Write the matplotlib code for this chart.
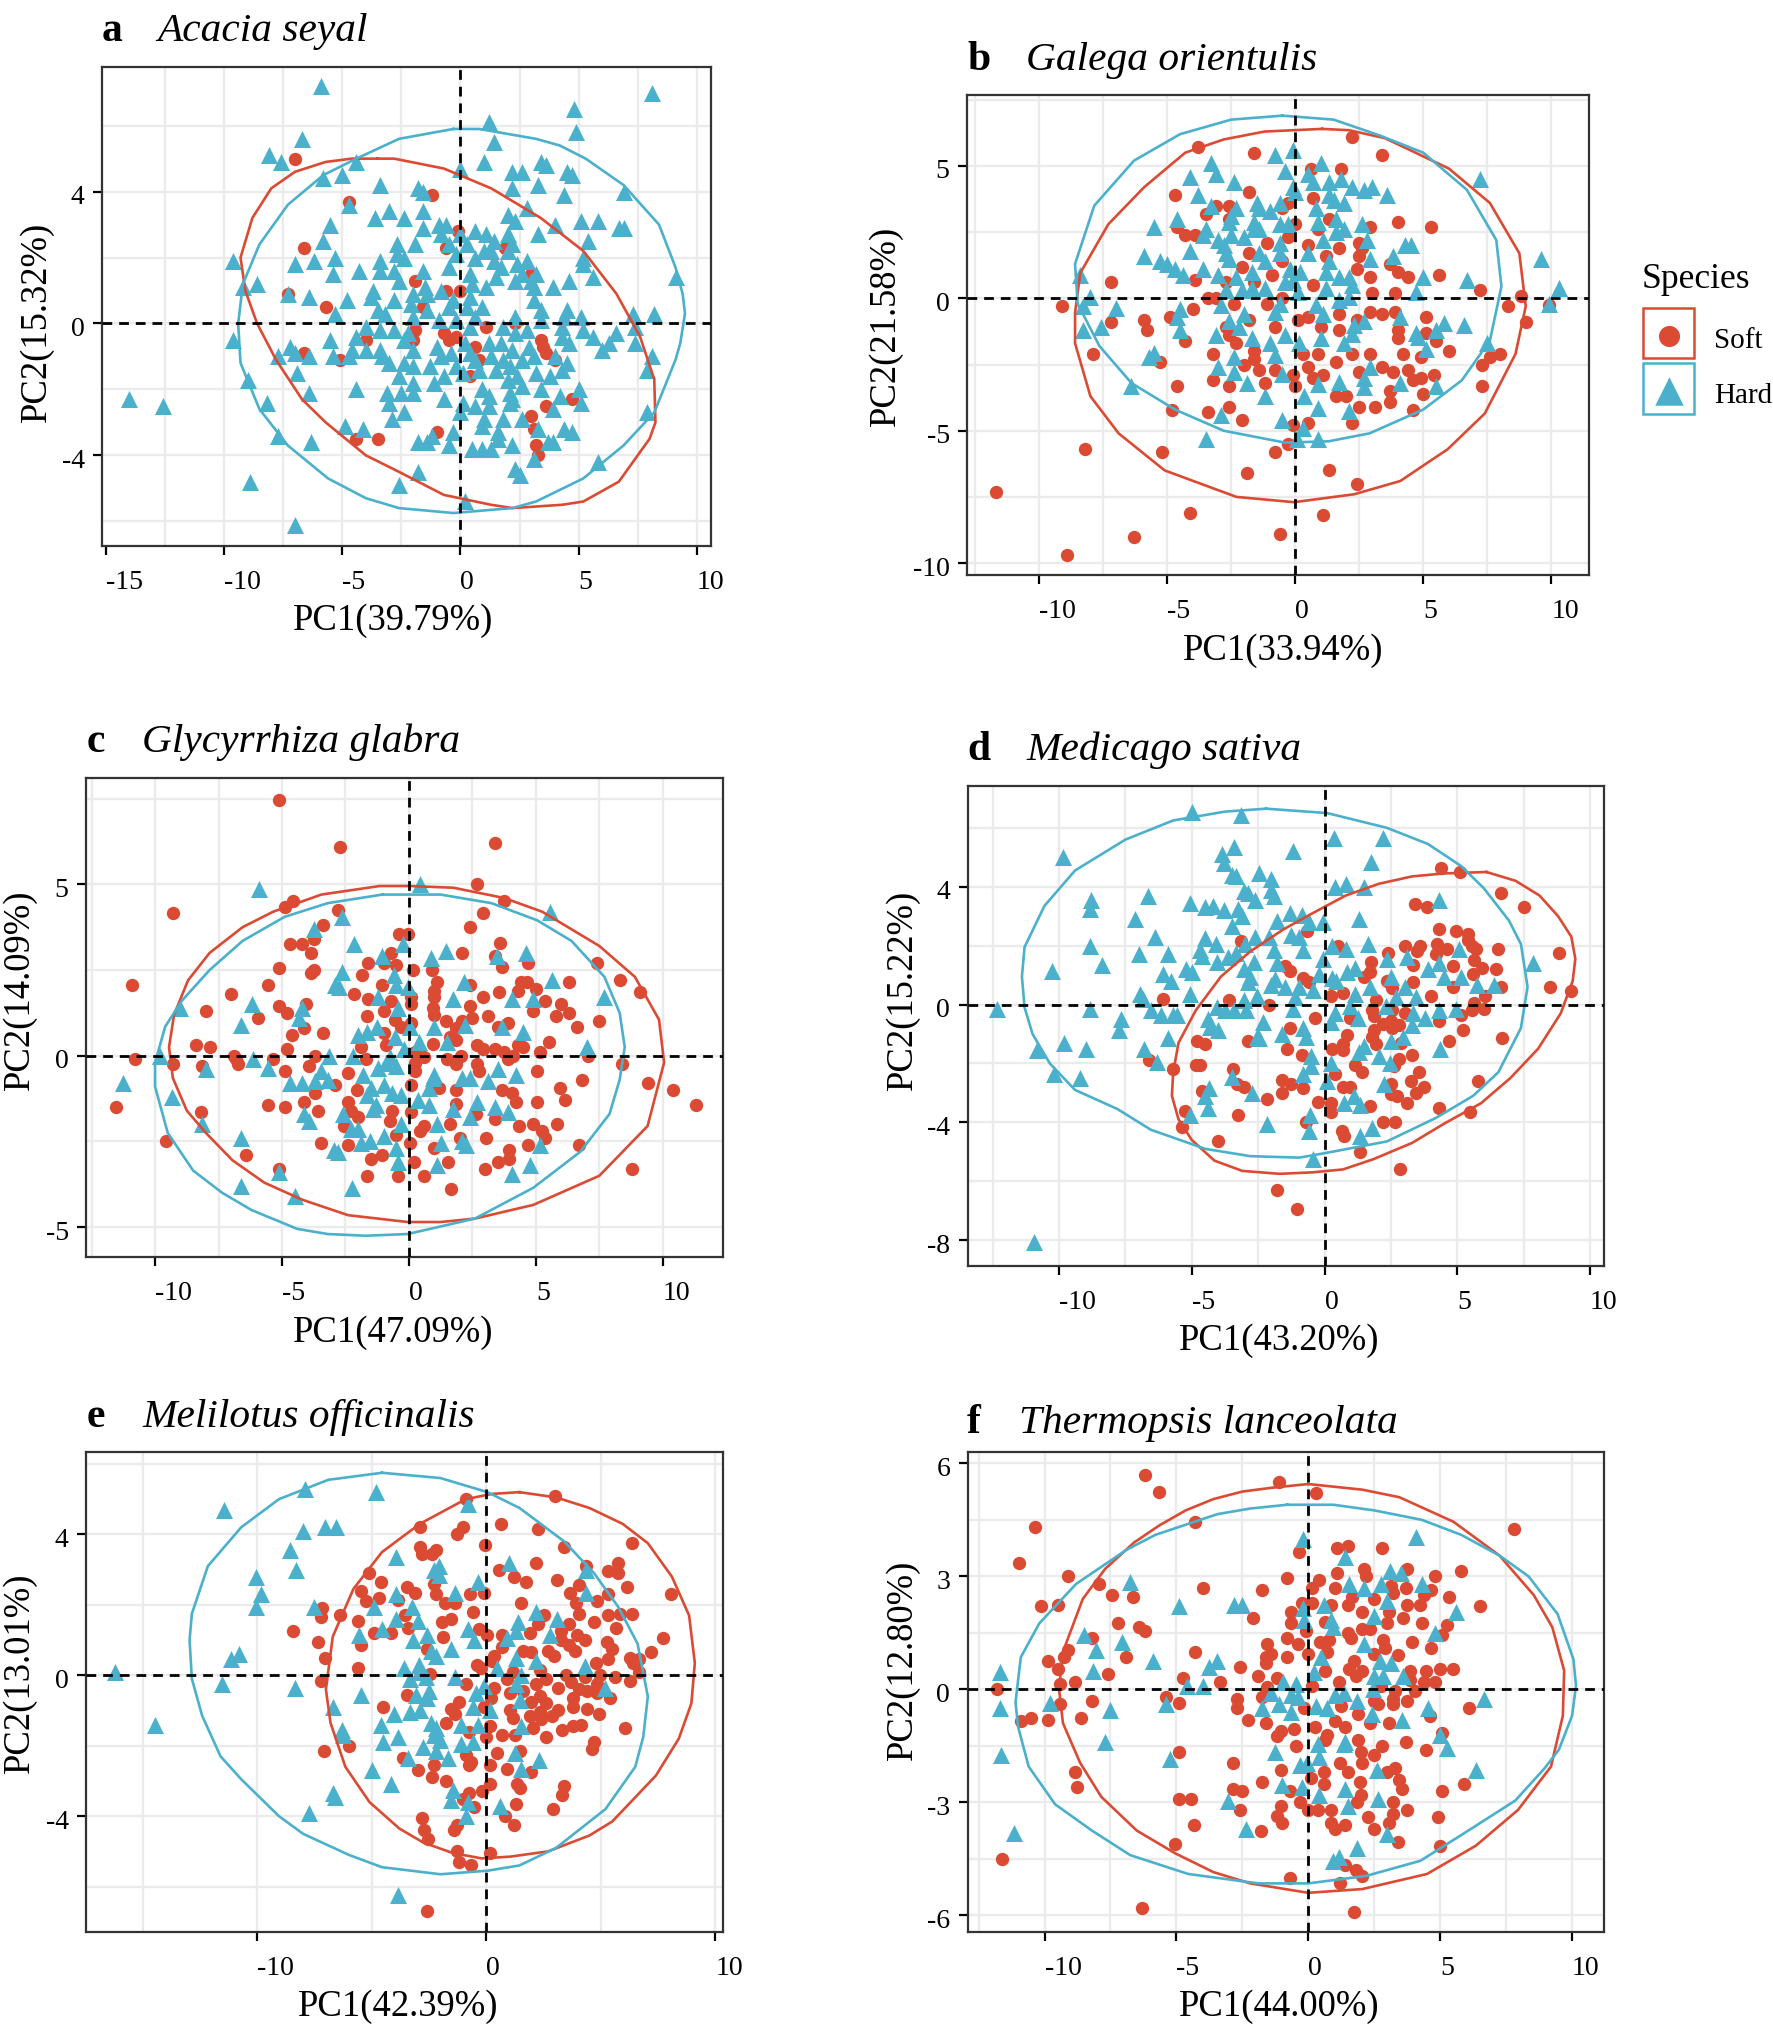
import matplotlib
matplotlib.use("Agg")
import matplotlib.pyplot as plt
from matplotlib.patches import Rectangle
from matplotlib.transforms import ScaledTranslation

plt.rcParams["font.family"] = ["Liberation Serif", "DejaVu Serif"]

SOFT = "#DB4A33"
HARD = "#4BB0CB"

# ----------------------------
# Panel a
# ----------------------------
a_soft = [(-7,5),(-1.2,3.9),(-4.7,3.7),(-.1,2.8),(-6.6,2.3),(-.6,2.3),(1.9,2.3),(3,1.5),(-1.9,1.3),(-7.3,.9),(-.6,1),(0,1),(-5.7,.5),(-1.6,.5),(-1.9,-.2),(1.1,-.1),(2.3,0),(-.7,-.3),(-.5,-.5),(-.2,-.4),(-4,-.5),(-2,-.5),(3.4,-.5),(.6,-.7),(3.5,-.7),(3.6,-.9),(-6.6,-.9),(4,-1.1),(-5.1,-1.1),(.8,-1.1),(.4,-1.6),(4.7,-2.3),(3.6,-2.5),(3,-2.8),(3.1,-3.2),(-1,-3.3),(-4.4,-3.5),(-3.5,-3.5),(3.2,-3.7),(3.3,-4)]
a_hard = [(-5.9,7.2),(8.1,7),(4.8,6.5),(1.2,6.1),(4.9,5.8),(1.4,5.5),(-6.7,5.6),(-8.1,5.1),(-7.6,4.9),(-4.4,4.9),(1,4.9),(0,4.7),(3.4,4.9),(3.6,4.8),(2.2,4.6),(2.6,4.6),(4.5,4.6),(4.7,4.5),(-5.8,4.4),(-5,4.5),(-3.4,4.2),(-1.8,4.1),(-1.6,4),(2.2,4.1),(3.3,4.2),(4.4,3.9),(6.9,4),(-4.7,3.6),(-3,3.4),(-1.6,3.4),(-3.6,3.2),(-2.4,3.2),(2.8,3.5),(2,3.3),(2.3,3.1),(5.1,3.1),(5.8,3.1),(-5.5,3),(4,3),(6.7,2.9),(6.9,2.9),(-1.6,2.9),(-.9,3),(-.6,3),(-.8,2.7),(.6,2.8),(0,2.7),(1.1,2.7),(1.4,2.5),(2,2.7),(3.3,2.7),(5.4,2.5),(-5.8,2.5),(-2.7,2.4),(-1.9,2.4),(-.5,2.4),(.3,2.4),(2.2,2.4),(2,2.2),(-2.7,2.1),(-.2,2.1),(1,2.2),(1.3,2.2),(5.2,2),(-5.3,2),(-6.2,1.9),(-9.6,1.9),(-7,1.8),(-2.4,2),(-3.4,1.9),(.6,2),(2.8,1.9),(1.4,1.9),(2.4,1.8),(5.2,1.8),(-.5,1.7),(-1.6,1.6),(-4.3,1.6),(-2.8,1.6),(-3.4,1.6),(.4,1.5),(1.7,1.7),(2.6,1.5),(3.2,1.5),(-5.4,1.5),(1.5,1.4),(5.6,1.4),(9.1,1.4),(-2.6,1.3),(2.3,1.3),(4.6,1.3),(3,1.3),(-8.6,1.2),(-9.2,1.1),(.5,1.2),(3.9,1.1),(3.1,1.1),(1.1,1.1),(-3.7,1),(-1.5,1.1),(-7.3,.9),(-6.4,.8),(-.8,1),(-2,.9),(-1.4,.9),(.4,.8),(-3.8,.8),(-2.8,.7),(-.3,.7),(3.1,.7),(-4.8,.7),(-2.1,.6),(.9,.5),(-.5,.5),(-3.5,.4),(.3,.5),(-1.4,.4),(4.5,.4),(3.4,.4),(-5.3,.3),(-3.2,.3),(2.3,.2),(8.2,.3),(7.3,.3),(5.1,.2),(-2,.2),(.6,.2),(4.4,.2),(-.9,.1),(-.2,.1),(3.4,.1),(7.4,-.1),(.4,-.1),(1.8,-.1),(2.8,-.2),(4.3,-.1),(-4,-.1),(-3.4,-.2),(-2.8,-.2),(5.2,-.2),(2.3,-.3),(6.6,-.3),(5.6,-.4),(-2.2,-.3),(-4.4,-.4),(1.2,-.6),(1.7,-.6),(4.3,-.4),(-9.6,-.5),(-5.5,-.5),(6.3,-.6),(7.4,-.6),(4.6,-.6),(.2,-.6),(-1,-.7),(-2.4,-.5),(-7.2,-.7),(6,-.8),(2.9,-.7),(2.2,-.8),(-4,-.8),(-4.6,-.8),(-3.4,-.8),(-2,-.8),(-7,-.9),(-.4,-.9),(1.3,-1),(.4,-.9),(-7.7,-1),(-6.4,-1),(-5.4,-1),(-4.7,-1),(-3.3,-1),(-.8,-1),(3.1,-1),(4,-1),(8.1,-1),(.6,-1.1),(2.6,-1.1),(1.8,-1.1),(-2.4,-1.2),(-2,-1.3),(-3,-1.2),(-1.3,-1.3),(4.5,-1.2),(7.9,-1.4),(-.2,-1.3),(2.1,-1.3),(.8,-1.4),(1.5,-1.4),(4.3,-1.4),(3.2,-1.5),(-.7,-1.6),(.1,-1.5),(-2.6,-1.6),(-6.9,-1.5),(2.4,-1.6),(3.8,-1.6),(-9,-1.7),(-1.1,-1.8),(-2,-1.8),(2,-1.7),(2.6,-1.9),(5,-2),(-4.4,-2),(-2.5,-2.1),(.9,-2),(3.4,-2),(-6.4,-2.1),(-3.1,-2.1),(-2,-2.1),(2.1,-2.1),(1.2,-2.2),(4.2,-2.2),(2.2,-2.3),(-.7,-2.3),(-14,-2.3),(-8.2,-2.4),(-3,-2.4),(.1,-2.4),(5.1,-2.4),(2.1,-2.4),(.6,-2.5),(1.2,-2.5),(-12.6,-2.5),(-2.4,-2.7),(3.9,-2.6),(7.9,-2.7),(0,-2.7),(-2.9,-2.9),(1.8,-2.9),(1,-2.9),(2.6,-2.9),(-4.9,-3.1),(-4.1,-3.2),(.9,-3.1),(3.3,-3.2),(4.4,-3.2),(4.7,-3.3),(1.6,-3.3),(-.3,-3.3),(-7.7,-3.4),(1.6,-3.5),(-1.2,-3.4),(-1.8,-3.6),(-1.4,-3.6),(-6.3,-3.6),(3.7,-3.6),(-.5,-3.7),(.5,-3.8),(.9,-3.8),(1.3,-3.8),(2.2,-3.7),(3.9,-3.6),(3.1,-4.1),(5.8,-4.2),(2.3,-4.4),(-1.8,-4.5),(2.5,-4.6),(-8.9,-4.8),(-2.6,-4.9),(.2,-5.4),(-7,-6.1)]
a_soft_ell = [(-3.5,5),(-2.8,5),(-.7,4.7),(1.3,4.1),(3.4,3.2),(5.2,2.2),(6.6,.9),(7.6,-.4),(8.2,-1.7),(8.25,-3),(8,-3.5),(6.7,-4.8),(5.2,-5.4),(4.3,-5.5),(2.2,-5.6),(1.3,-5.5),(-.7,-5.2),(-2.6,-4.5),(-4,-4),(-5.7,-3),(-6.7,-2.3),(-7.8,-1.1),(-8.6,0),(-9.1,1),(-9.3,2),(-8.8,3.2),(-8,4.1),(-7,4.6),(-5.7,4.9),(-4.6,5)]
a_hard_ell = [(-.3,5.9),(.8,5.9),(3.2,5.6),(4.2,5.4),(5.3,5),(6.9,4.2),(8.4,3),(9.1,1.7),(9.4,.9),(9.5,.3),(9.3,-.6),(9.1,-1.1),(8.2,-2.7),(6.9,-3.7),(5.2,-4.7),(3.2,-5.4),(2.2,-5.6),(-.3,-5.75),(-2.6,-5.6),(-4,-5.3),(-5.6,-4.7),(-7.3,-3.7),(-8.5,-2.6),(-9.3,-1.2),(-9.4,0),(-9.2,1.2),(-8.5,2.4),(-7.3,3.6),(-5.8,4.5),(-4.4,5),(-2.6,5.6)]

# ----------------------------
# Panel b
# ----------------------------
b_soft = [(2.2,6.1),(-3.8,5.7),(-1.6,5.5),(3.4,5.4),(.6,4.9),(1.8,4.9),(-4.7,3.9),(-1.8,4),(.7,3.8),(-3.1,3.5),(-2.6,3.5),(-.3,3.6),(-.5,3.4),(-3.5,3.2),(1.3,3),(-2.6,3),(0,2.8),(4,2.9),(5.3,2.7),(2.9,2.7),(-4.6,2.7),(.9,2.6),(-4.3,2.4),(-3.9,2.4),(-.3,2.3),(-1.1,2.1),(2.5,2.1),(.5,2),(2.6,1.9),(1.7,1.9),(-1.8,1.7),(1.2,1.6),(2.5,1.6),(-.5,1.4),(3.7,1.3),(2.4,1.1),(-2.1,1.2),(4,1),(-.9,.9),(5.6,.9),(2.9,.8),(-3.9,.7),(4.4,.8),(-7.2,.6),(-2.7,.6),(.7,.5),(-1.6,.6),(3,.2),(3.9,.2),(7.2,.3),(8.8,.1),(-3.4,0),(-3.1,0),(-.5,0),(-2.4,-.2),(-1.1,-.2),(-9.1,-.3),(-4,-.4),(8.3,-.3),(9.9,-.25),(2.9,-.5),(3.9,-.5),(3.4,-.6),(1.7,-.6),(-4.9,-.7),(5.1,-.7),(.1,-.8),(.5,-.7),(2.4,-.8),(-5.9,-.8),(-7.2,-.9),(-1.8,-.8),(9,-.9),(-5.8,-1.2),(-2.7,-1.1),(-.8,-1.1),(1,-1.1),(1.7,-1.2),(4,-1.2),(5.1,-1.3),(4,-1.5),(-2.6,-1.4),(-4.3,-1.6),(-2.3,-1.7),(5.5,-1.6),(-1.6,-2),(6,-2),(-3.2,-2.1),(-7.9,-2.1),(.3,-2.1),(.9,-2.1),(2.2,-2.1),(2.9,-2.1),(4.2,-2.1),(4.9,-2.2),(8,-2.1),(7.6,-2.2),(-5.3,-2.4),(-1.6,-2.3),(1.6,-2.4),(7.3,-2.5),(-2,-2.5),(.5,-2.6),(-.8,-2.7),(-1.4,-2.7),(3.4,-2.6),(3.8,-2.8),(4.4,-2.7),(2.5,-2.8),(5.4,-2.9),(-.1,-2.9),(1.1,-2.9),(.7,-3),(-3.2,-3.1),(4.6,-3.1),(4.9,-3),(-4.6,-3.3),(-2.6,-3.3),(-1.2,-3.2),(0,-3.3),(7.3,-3.3),(3.7,-3.5),(5,-3.6),(1.6,-3.7),(2,-3.7),(3.7,-3.9),(2.5,-4.1),(3.1,-4.1),(-2.6,-4.1),(-4.8,-4.2),(-3.4,-4.3),(4.6,-4.2),(-2.1,-4.6),(.5,-4.7),(2.2,-4.7),(-.1,-4.8),(-.3,-5.5),(-.8,-5.8),(-8.2,-5.7),(-5.2,-5.8),(1.3,-6.5),(-1.9,-6.6),(2.4,-7),(-11.7,-7.3),(-4.1,-8.1),(1.1,-8.2),(-6.3,-9),(-.6,-8.9),(-8.9,-9.7)]
b_hard = [(-.1,5.6),(-.8,5.4),(1,5.1),(-3.3,5.1),(-3.1,4.7),(-.4,4.8),(.5,4.7),(-4.1,4.6),(.7,4.4),(1.3,4.4),(1.8,4.5),(-2.4,4.4),(2.2,4.2),(2.7,4.1),(3,4.2),(-.1,4.2),(0,4),(1.3,3.9),(3.6,3.9),(7.2,4.5),(-3.8,3.9),(1.5,3.7),(-.6,3.6),(-1.5,3.6),(1.9,3.6),(-3.3,3.5),(-1.4,3.4),(-2.3,3.4),(.8,3.4),(-1,3.3),(-2.5,3.1),(1.6,3),(-4.6,3),(.9,2.9),(-2.6,2.9),(-1.6,2.9),(-.6,2.8),(2.6,2.8),(-.3,2.8),(-5.5,2.7),(1.9,2.6),(-3.5,2.6),(-1.4,2.6),(1.6,2.5),(-3.6,2.4),(-2.5,2.4),(-2,2.3),(-1.6,2.6),(-3,2.2),(1.1,2.2),(2.8,2.2),(-.6,2.1),(4.3,2),(4.5,2),(-2.8,2),(-4.1,1.8),(-1.4,1.7),(-.6,1.7),(.5,1.7),(-2.7,1.7),(3.8,1.6),(-5.9,1.6),(2.9,1.5),(-2.6,1.5),(-1.2,1.4),(-5.3,1.4),(1.3,1.4),(9.6,1.5),(-5,1.3),(-3.6,1.1),(-.2,1.1),(-4.7,1.1),(-1.7,1),(.2,1),(1.2,1),(-8.4,.9),(-3,.9),(-4.4,.9),(-2.3,.8),(1.7,.8),(2.1,.8),(5,.8),(6.7,.7),(-.4,.6),(-.1,.7),(2.2,.5),(10.3,.4),(-1.7,.4),(-1.2,.4),(1.2,.4),(-2.1,.3),(-2.7,.3),(4.7,.25),(.1,.25),(-8,.05),(2.1,.05),(1.7,-.05),(-8.3,-.3),(-7,-.35),(9.9,-.2),(-.6,-.2),(.8,-.25),(-2.9,-.25),(-4.5,-.4),(1.1,-.6),(-4.6,-.7),(4.1,-.7),(-2,-.6),(-.8,-.5),(-2.6,-.85),(2.7,-.85),(5.8,-.95),(6.6,-1),(-7.6,-1.1),(2.3,-1),(5.5,-1.2),(-8.3,-1.2),(-2.2,-1.1),(-4.5,-1.2),(4.7,-1.3),(-3.1,-1.4),(-.4,-1.4),(-1.7,-1.5),(1,-1.5),(2.2,-1.35),(4.8,-1.45),(1.9,-1.7),(-1,-1.7),(.15,-1.7),(7.5,-1.7),(5.1,-1.9),(-5.5,-2.05),(-5.7,-2.2),(-.8,-2.15),(-2.4,-2.2),(2.9,-2.6),(-3,-2.6),(-2.4,-2.8),(-.5,-2.85),(2.7,-3),(1.7,-3.15),(4.1,-3.2),(-1.9,-3.2),(.9,-3.25),(5.5,-3.3),(-6.4,-3.3),(2.7,-3.35),(.35,-3.7),(-1.2,-3.7),(.9,-4.15),(2.1,-4.25),(-2.9,-4.4),(-.5,-4.6),(.3,-4.9),(-3.5,-5.3),(.05,-5.3),(.9,-5.3)]
b_soft_ell = [(1.05,6.4),(-1.2,6.3),(-2.8,6),(-4.3,5.5),(-5.9,4.2),(-7.3,2.8),(-8.4,.95),(-8.6,-.55),(-8.6,-1.7),(-8,-3.7),(-6.9,-5.1),(-5.1,-6.5),(-2.3,-7.5),(-.05,-7.7),(2.3,-7.4),(4.1,-6.9),(5.95,-5.7),(7.4,-4.35),(8.6,-2.1),(9,-.3),(8.75,1.7),(7.6,3.6),(6,4.9),(3.5,6.05),(2.1,6.35)]
b_hard_ell = [(-.5,6.9),(-2.5,6.75),(-4.5,6.2),(-6.3,5.2),(-7.85,3.5),(-8.6,1.3),(-8.5,-.2),(-7.65,-1.8),(-6.4,-3.2),(-4.7,-4.2),(-2.8,-5),(-.4,-5.45),(1.3,-5.4),(2.9,-5.1),(5,-4.2),(6.5,-3.1),(7.6,-1.6),(8.05,.45),(7.85,2.2),(6.7,4.1),(5,5.5),(3.3,6.15),(1.5,6.75)]

# ----------------------------
# Panel c
# ----------------------------
c_soft = [(-5.1,7.45),(-2.7,6.1),(3.4,6.2),(2.7,5),(3.75,4.5),(-4.55,4.5),(-4.9,4.35),(-9.3,4.15),(2.9,4.15),(-2.8,4.25),(-3.4,3.8),(2.4,3.75),(-.4,3.55),(-.05,3.55),(-3.75,3.4),(-4.7,3.25),(-4.2,3.25),(3.6,3.3),(-3.85,3),(-.7,3),(2.1,3),(3.4,2.9),(4.7,2.7),(-1.6,2.7),(-1,2.7),(-.5,2.65),(3.65,2.6),(7.4,2.7),(-5.1,2.55),(-3.75,2.5),(.15,2.5),(.9,2.5),(-3.85,2.4),(-1.85,2.35),(8.3,2.2),(6.3,2.15),(-10.9,2.05),(-5.55,2.05),(-1.05,2.05),(1.1,2.15),(2.4,2.05),(4.4,2.15),(4.65,2.15),(1,1.9),(5,1.95),(4.3,1.9),(3.55,1.85),(9.1,1.85),(-7,1.8),(-2.15,1.8),(1,1.7),(2.9,1.7),(.1,1.7),(-1.6,1.65),(-.7,1.6),(5.35,1.6),(-4.05,1.5),(6,1.5),(.1,1.5),(-5.1,1.45),(.95,1.4),(2.4,1.45),(-8,1.3),(-4.8,1.25),(-1,1.3),(4.9,1.3),(1,1.2),(6.3,1.25),(-1.65,1.15),(3.1,1.15),(5.8,1.15),(-5.95,1.1),(2.5,1.1),(-.55,1.05),(1.45,1),(7.5,1),(2.1,1),(3.9,.95),(.1,.95),(-.3,.85),(6.6,.85),(3.5,.85),(-4.15,.8),(1.85,.8),(-3.4,.65),(-1,.65),(-4.6,.6),(1.6,.55),(1.85,.45),(5.5,.4),(.95,.35),(-.9,.3),(-1.9,.25),(2.7,.3),(4.3,.3),(-8.4,.3),(-7.85,.25),(2.9,.2),(4.5,.25),(3.4,.2),(-4.8,.2),(3.75,.1),(5.15,.1),(.25,.1),(-6.9,0),(-3.7,0),(.6,-.05),(2.05,0),(4.1,0),(-10.8,-.1),(-6.8,-.1),(-5.35,-.1),(-1.7,-.1),(1.5,-.1),(3.9,-.1),(7.05,0),(-9.3,-.25),(-6.75,-.25),(-3.95,-.3),(-8.15,-.3),(.25,-.2),(1.85,-.25),(2.7,-.25),(8.4,-.25),(-4.9,-.45),(.25,-.45),(5.05,-.45),(-2.4,-.5),(2.75,-.45),(6.8,-.7),(9.4,-.8),(-2.9,-.85),(.1,-.85),(1.2,-.95),(5.95,-.95),(-2.05,-1),(1.85,-1),(3.65,-1),(10.4,-1),(-3.7,-1.1),(4.05,-1.1),(6.15,-1.3),(-4.15,-1.35),(-2.4,-1.35),(5.05,-1.35),(-5.55,-1.45),(1.85,-1.4),(4.2,-1.35),(11.3,-1.45),(-11.55,-1.5),(-4.9,-1.5),(-3.6,-1.6),(-2.3,-1.6),(-8.2,-1.65),(-.65,-1.6),(.1,-1.65),(2.65,-1.7),(-2,-1.8),(3.4,-1.85),(-.75,-1.9),(1.6,-2),(5.85,-2),(4.9,-2),(.6,-2.05),(4.35,-2.05),(-2.55,-2.05),(5.25,-2.2),(.45,-2.2),(-.5,-2.3),(5.35,-2.4),(2,-2.4),(3.05,-2.4),(-9.55,-2.5),(-3.45,-2.55),(.05,-2.55),(-2.4,-2.6),(6.7,-2.6),(4.7,-2.6),(1,-2.7),(3.95,-2.75),(-6.4,-2.9),(-1.05,-2.9),(-1.5,-3),(3.95,-3),(.2,-3.1),(1.55,-3.1),(3.5,-3.1),(3,-3.3),(-5.1,-3.3),(8.8,-3.3),(-1.65,-3.5),(-.45,-3.5),(.6,-3.5),(1.65,-3.9)]
c_hard = [(-5.9,4.85),(.45,5),(5.55,4.2),(-2.65,4.05),(-3.75,3.7),(-2.15,3.25),(-.25,3.25),(1.45,3.05),(-1.05,2.9),(.85,2.85),(3.45,2.9),(4.6,3),(-2.65,2.45),(-.6,2.35),(5.65,2.2),(2.15,2.15),(-2.9,2.05),(-2.75,2),(-.5,2.05),(-.05,2),(7.7,1.7),(-1.2,1.7),(1.75,1.65),(4.05,1.65),(4.9,1.65),(-9,1.4),(-6.2,1.5),(-4.2,1.4),(-.45,1.4),(-4.35,1.1),(-6.6,.9),(3.65,.85),(2.2,.9),(1,.85),(.05,.85),(-1.25,.85),(4.5,.7),(-1.65,.7),(-2,.6),(-.55,.55),(1.5,.4),(.4,.4),(7,.25),(-.2,.2),(-9.8,0),(-3.15,0),(-2.2,0),(-6.15,-.1),(-.75,-.05),(-5.55,-.35),(-8,-.4),(-1.2,-.35),(-.5,-.3),(3.5,-.4),(-.9,-.2),(-3.45,-.45),(-1.8,-.55),(1,-.55),(4.2,-.55),(-3.2,-.7),(-4.7,-.8),(-4.2,-.8),(-3.7,-.75),(-11.25,-.8),(2.1,-.65),(2.4,-.65),(3.1,-.75),(.95,-.65),(-1,-.85),(.8,-.95),(-1.5,-.95),(-.65,-1.1),(-.3,-1.15),(-1.65,-1.15),(-9.35,-1.2),(.35,-1.3),(2.7,-1.35),(.8,-1.45),(-1.3,-1.45),(3.4,-1.5),(-1.4,-1.55),(1.75,-1.55),(3.9,-1.65),(-4.15,-1.7),(-2.6,-1.7),(2.4,-1.8),(-3.95,-1.9),(-8.15,-2),(-.3,-2),(1.1,-2),(-2.3,-2.15),(-2,-2.15),(-1,-2.35),(-6.6,-2.4),(-1.55,-2.5),(-1.9,-2.55),(1.25,-2.55),(2.1,-2.5),(2.25,-2.6),(5.15,-2.6),(-.5,-2.7),(-2.95,-2.75),(-2.8,-2.8),(-.45,-3.1),(1.1,-3.2),(4.75,-3.2),(-5.1,-3.4),(4.05,-3.45),(-6.6,-3.8),(-2.25,-3.85),(-4.5,-4.1)]
c_soft_ell = [(0,4.95),(-1.15,4.95),(-3.45,4.7),(-5.35,4.2),(-6.55,3.75),(-7.85,3),(-8.7,2.2),(-9.25,1.2),(-9.45,.25),(-9.3,-.65),(-8.75,-1.6),(-8,-2.25),(-6.95,-3.05),(-5.7,-3.7),(-4.2,-4.2),(-2.4,-4.65),(-.05,-4.85),(1.25,-4.85),(2.6,-4.75),(4.9,-4.35),(7.5,-3.5),(9.4,-2.05),(10.05,-.2),(9.85,1.05),(8.9,2.3),(7.5,3.2),(5.25,4.2),(3.75,4.6),(1.75,4.9)]
c_hard_ell = [(-1.05,4.7),(1.25,4.7),(3.25,4.45),(5.05,3.95),(6.4,3.35),(7.7,2.3),(8.3,1.25),(8.5,.25),(8.3,-.7),(7.9,-1.7),(6.75,-2.8),(4.9,-3.85),(2.6,-4.75),(-.05,-5.2),(-1.7,-5.25),(-3.2,-5.2),(-4.4,-5.05),(-6.2,-4.5),(-7.35,-4),(-8.5,-3.35),(-9.5,-2.25),(-10,-.9),(-10,-.2),(-9.6,.85),(-8.95,1.6),(-7.85,2.5),(-6.55,3.35),(-4.9,4.05),(-3.2,4.45)]

# ----------------------------
# Panel d
# ----------------------------
d_soft = [(4.4,4.65),(5.1,4.5),(6.65,3.8),(3.4,3.4),(3.85,3.3),(7.5,3.3),(4.3,2.55),(-.65,2.5),(4.95,2.5),(5.4,2.4),(-3.15,2.15),(5.4,2.2),(4.25,2.05),(3.05,2),(3.6,2),(.5,2),(5.55,2),(6.55,1.9),(4.6,1.9),(5.7,1.9),(3.5,1.8),(2.4,1.75),(4.2,1.7),(8.85,1.75),(5.65,1.5),(1.75,1.45),(3.35,1.35),(4.85,1.3),(5.95,1.25),(-1.5,1.3),(-1.3,1.15),(6.45,1.2),(1.7,1.1),(5.6,1.05),(-.8,.9),(1.5,.95),(2.35,.8),(3.35,.75),(8.5,.6),(4.85,.6),(6.65,.6),(-.6,.75),(2.55,.55),(.7,.4),(9.3,.45),(.25,.3),(4,.3),(6.05,.3),(-6.1,.2),(-3.6,.15),(1.95,.15),(5.65,.05),(-2.1,0),(6,-.15),(1.8,-.2),(2.55,-.2),(5.55,-.2),(5.15,-.35),(3.05,-.3),(-.35,-.45),(1.85,-.4),(.95,-.45),(2.5,-.55),(4.3,-.55),(2.2,-.65),(2.8,-.7),(-1.3,-.8),(1.85,-.85),(5.2,-.85),(2.55,-.8),(.85,-1.05),(1.8,-1.1),(6.7,-1.15),(-4.8,-1.25),(4.7,-1.25),(-4.5,-1.35),(-2.9,-1.25),(.7,-1.35),(1.95,-1.35),(2.9,-1.3),(-1.4,-1.5),(.3,-1.5),(.7,-1.55),(-.85,-1.7),(3.3,-1.7),(-6.6,-1.9),(2.8,-1.85),(-4.85,-2.05),(-4.7,-2.05),(-5.7,-2.2),(1.15,-2.05),(2.6,-2.1),(-3.45,-2.2),(1.4,-2.3),(.4,-2.35),(3.55,-2.3),(-1.6,-2.55),(3.25,-2.6),(5.8,-2.6),(-1.25,-2.7),(-3.3,-2.7),(-3.05,-2.8),(-.8,-2.85),(2.5,-2.7),(.7,-2.8),(.95,-2.8),(3.75,-2.8),(-4.6,-2.95),(3.45,-3),(2.5,-3.05),(-1.6,-3),(-2.15,-3.2),(2.75,-3.1),(-.25,-3.3),(3.1,-3.35),(.25,-3.35),(1.7,-3.45),(.25,-3.65),(4.3,-3.5),(-5.25,-3.6),(5.5,-3.65),(-3.25,-3.75),(-.7,-4),(2.2,-4),(2.65,-4),(-5.35,-4.15),(.65,-4.3),(.75,-4.45),(-4,-4.65),(1.35,-5),(2.85,-5.6),(-1.8,-6.3),(-1.05,-6.95)]
d_hard = [(-5,6.55),(-3.15,6.45),(.35,5.65),(2.2,5.65),(-3.4,5.35),(-9.85,5),(-3.85,5.1),(-1.2,5.2),(-3.8,4.8),(1.75,4.85),(-3.5,4.4),(-3.35,4.35),(-2.45,4.45),(-2,4.25),(.4,4),(.8,4.1),(1.5,4),(-2,3.9),(-3.05,3.85),(-1.9,3.7),(-2.9,3.8),(-8.8,3.55),(-6.65,3.7),(-2.6,3.55),(4.3,3.55),(-8.85,3.25),(-5.05,3.45),(-4.5,3.3),(-4.2,3.35),(-3.8,3.2),(-3.25,3.25),(-3.1,3),(-1.3,3.1),(-.85,3.05),(-1.8,2.85),(-7.15,2.9),(1.3,2.9),(-.05,2.8),(-.6,2.8),(-3.5,2.65),(-6.4,2.3),(-2.6,2.3),(-2.1,2.3),(-1.25,2.35),(-.95,2.3),(-4.5,2.25),(-4.1,2.05),(-3,2.05),(-8.85,2),(1.65,2.05),(.3,2),(.8,1.9),(-4.7,1.85),(-1.9,1.85),(-.8,1.85),(-7,1.7),(-5.9,1.7),(-4.6,1.65),(-3.35,1.75),(-3.65,1.6),(2.35,1.55),(3.1,1.6),(5.05,1.9),(-4.05,1.45),(-2.65,1.45),(-.05,1.55),(-8.4,1.35),(-1.8,1.4),(4.3,1.4),(7.85,1.4),(-10.25,1.15),(-5.2,1.2),(-5,1.1),(-3.05,1.2),(1.15,1.25),(3.9,1.2),(-6.1,1.05),(-.2,1.05),(-2.8,.95),(.85,1.1),(2.5,.95),(4.5,.95),(-5.8,.8),(.3,.9),(-1.85,.85),(-2.9,.75),(5.15,.95),(.45,.8),(-2,.65),(-1.5,.6),(-.95,.6),(1.7,.6),(3.05,.6),(5.75,.65),(6.4,.65),(-6.95,.35),(-5.05,.35),(1.15,.35),(-.45,.5),(-2.55,.3),(-1.1,.25),(3.45,.25),(2.7,.25),(-6.85,.2),(-3.05,.15),(-12.35,-.15),(-8.85,-.15),(-4.05,-.1),(2.3,-.05),(.95,-.05),(-6.55,-.2),(-3.75,-.2),(-3.4,-.2),(-2.95,-.2),(-1.2,-.15),(4.95,-.15),(4.3,-.2),(-6.15,-.35),(-5.7,-.35),(-5.55,-.35),(.4,-.3),(3.35,-.3),(1.25,-.45),(3.8,-.45),(-7.65,-.5),(-4.4,-.5),(.25,-.6),(-2.3,-.6),(3.3,-.7),(-4.3,-.75),(-4,-.85),(-7.75,-.85),(-.8,-.8),(-1.6,-1),(-2.55,-1.1),(-.7,-1.1),(2.95,-1.1),(-5.9,-1.15),(-2.45,-1.15),(2.5,-1.25),(-9.8,-1.3),(1.5,-1.4),(4.35,-1.5),(-9,-1.5),(-10.85,-1.55),(-6.8,-1.5),(1.3,-1.6),(-.5,-1.75),(2.05,-1.75),(-6.3,-1.95),(.25,-2),(2.45,-2),(-.5,-2.1),(-.8,-2.35),(-10.2,-2.35),(-3.5,-2.45),(-9.2,-2.5),(.1,-2.6),(2.25,-2.7),(-4.35,-2.85),(-2.75,-3),(1.1,-3.1),(-4.5,-3.1),(.75,-3.35),(1.35,-3.4),(-4.4,-3.5),(-5.05,-3.75),(-.55,-3.75),(-2.15,-4.05),(1.8,-4.2),(-.6,-4.3),(1.35,-4.45),(-.45,-5.25),(-10.95,-8.05)]
d_soft_ell = [(6.1,4.5),(4.5,4.45),(3.3,4.35),(2.05,4.1),(.8,3.7),(-.45,3.1),(-1.55,2.55),(-2.8,1.8),(-3.9,.95),(-4.85,-.2),(-5.5,-1.3),(-5.7,-2.3),(-5.75,-3.1),(-5.5,-3.9),(-5,-4.6),(-4.15,-5.3),(-3.1,-5.65),(-1.7,-5.75),(-.45,-5.7),(.7,-5.6),(1.85,-5.25),(3.3,-4.7),(4.5,-4.05),(5.9,-3.35),(7,-2.5),(8.05,-1.5),(8.9,-.3),(9.35,.8),(9.45,1.55),(9.3,2.3),(8.8,3),(8.1,3.7),(7.2,4.2)]
d_hard_ell = [(-2.2,6.65),(.1,6.5),(2.35,6),(3.9,5.45),(5.15,4.7),(6,3.95),(6.95,2.85),(7.4,2.05),(7.65,.6),(7.4,-.8),(6.55,-2.3),(5.6,-3.1),(4.2,-3.85),(2.35,-4.65),(0,-5.05),(-.95,-5.2),(-2.8,-5.15),(-4.5,-4.9),(-6.55,-4.25),(-7.8,-3.55),(-9.4,-2.9),(-10.35,-2),(-11,-1),(-11.3,-.1),(-11.4,.95),(-11.3,1.95),(-10.55,3.35),(-9.4,4.55),(-7.5,5.6),(-5.7,6.25),(-3.75,6.55)]

# ----------------------------
# Panel e
# ----------------------------
e_soft = [(3,5.1),(-.9,5),(.65,4.3),(-1,4.2),(-2.9,4.2),(2.25,4.15),(-1.3,4),(6.35,3.75),(-.05,3.7),(3.4,3.65),(-2.9,3.65),(-2.2,3.55),(-2.8,3.45),(-2.35,3.45),(5.75,3.2),(2.15,3.2),(4.35,3.1),(.55,3),(5.3,2.95),(5.75,2.9),(-5.1,2.9),(1.2,2.8),(3.1,2.7),(-4.6,2.65),(1.75,2.65),(-2.3,2.6),(4.05,2.55),(6.15,2.5),(-3.45,2.5),(-5.45,2.4),(3.65,2.35),(-3.1,2.35),(-.1,2.35),(-.7,2.3),(5.3,2.3),(8.05,2.3),(-2.2,2.3),(-4.7,2.2),(-3.85,2.15),(4.85,2.1),(-5.25,2.1),(1.5,2.05),(3.9,2.05),(-1.8,2.05),(-1.35,2.05),(-7.15,1.9),(-.6,1.8),(4.05,1.75),(5.85,1.75),(6.35,1.75),(5.3,1.7),(-7.2,1.65),(-6.4,1.7),(2.5,1.7),(-3.55,1.7),(-1.55,1.6),(-5.6,1.55),(-1.95,1.5),(4.7,1.5),(3.6,1.45),(2.25,1.45),(5.65,1.35),(-3.4,1.35),(-.3,1.3),(-8.45,1.25),(-4.9,1.2),(-4.15,1.2),(3.25,1.25),(1.9,1.2),(.05,1.15),(.7,1.15),(3.95,1.15),(-1.9,1.1),(7.7,1.05),(3.25,1),(-7.35,.95),(4.3,1),(5.25,.95),(-5.45,.85),(3.6,.85),(.7,.8),(-2.6,.75),(5.5,.75),(3.85,.7),(1.6,.7),(2.7,.7),(7.2,.65),(1.95,.65),(-7.05,.5),(.35,.55),(2.95,.55),(5.3,.45),(6.25,.5),(6.65,.45),(4.8,.35),(-.4,.3),(.25,.4),(6.4,.35),(-5.6,.2),(-2.45,.05),(-.25,.2),(1.15,.1),(2.35,.15),(6.65,.1),(5.6,-.05),(3.5,0),(4.3,-.05),(4.95,0),(2.6,-.1),(.9,-.1),(6.25,-.15),(-7.2,-.15),(-.9,-.25),(2.15,-.25),(3.7,-.2),(4.85,-.25),(.35,-.35),(3.15,-.35),(4.05,-.4),(4.4,-.45),(1.6,-.45),(1.05,-.5),(4.85,-.5),(5.4,-.65),(-3.45,-.55),(2.35,-.6),(.2,-.65),(3.8,-.65),(1.95,-.75),(-1.2,-.75),(2.6,-.8),(-4.5,-.9),(-1.55,-.95),(3.8,-.9),(-.1,-.9),(3.15,-1),(4.4,-.95),(1.05,-1),(2.35,-1.05),(-1.35,-1.1),(4.9,-1.1),(1.15,-1.2),(1.9,-1.15),(2.85,-1.15),(-1.75,-1.35),(2.4,-1.25),(4.15,-1.4),(3.8,-1.45),(3.3,-1.55),(6.05,-1.5),(.15,-1.45),(2.05,-1.5),(1.25,-1.7),(.7,-1.7),(2.6,-1.75),(-.75,-1.6),(0,-1.75),(4.7,-1.9),(4.6,-2.1),(-6,-2),(-7.1,-2.15),(1.45,-2.15),(.45,-2.2),(-.9,-2.25),(-3.65,-2.35),(-.65,-2.45),(-2.3,-2.55),(.15,-2.55),(.9,-2.65),(-.75,-2.55),(-3,-2.7),(1.95,-2.75),(-2.35,-2.9),(-1.75,-3),(.15,-3.1),(1.35,-3.1),(3.4,-3.15),(1.45,-3.2),(3.3,-3.4),(-.2,-3.3),(-.75,-3.35),(-1,-3.5),(1.3,-3.65),(-.55,-3.75),(2.9,-3.8),(.8,-4),(-2.8,-4.05),(-1.3,-4.25),(1.2,-4.25),(-2.7,-4.4),(-1.4,-4.4),(-2.55,-4.65),(-1.3,-5),(.15,-5.05),(-1.2,-5.3),(-.65,-5.4),(-2.6,-6.7)]
e_hard = [(-7.9,5.3),(-4.8,5.2),(-11.45,4.7),(-.8,4.85),(-7.05,4.2),(-6.55,4.2),(-8,4.1),(-8.55,3.55),(-3.95,3.35),(1,3.2),(-2.05,3.1),(-2.3,3),(-2.05,2.85),(-8.3,3),(4.35,3),(-10.05,2.8),(-.35,2.65),(-9.85,2.3),(-3.95,2.3),(-1.35,2.35),(4.35,2.35),(-10.05,1.95),(-7.5,1.95),(-4.9,1.95),(-3.25,1.95),(2.15,1.8),(3.1,1.6),(-3.95,1.6),(-3,1.55),(1.4,1.5),(-4.55,1.3),(-.8,1.3),(1.3,1.25),(-5.55,1.15),(-2.6,1.15),(2.8,1.15),(-3.2,1),(-.55,1),(.9,1.05),(-1.55,.75),(-2.4,.7),(-10.8,.6),(-11.15,.45),(-2.2,.55),(1.3,.5),(2.15,.4),(-2.95,.3),(4.3,.25),(-3.6,.2),(-16.2,.1),(.45,.2),(-2.95,.1),(-1.35,-.05),(-3.35,-.1),(-2.65,-.05),(1.5,0),(-11.55,-.25),(1.3,-.25),(-.1,-.3),(-8.35,-.35),(5.2,-.35),(-2.5,-.45),(-.45,-.5),(-5.45,-.55),(-3.05,-.55),(-2.6,-.65),(1.45,-.7),(-6.7,-.9),(-.6,-.9),(.15,-1),(-2.9,-1),(-3.35,-1.05),(-4.05,-1.1),(-2.4,-1.35),(-4.6,-1.4),(-14.45,-1.4),(-1.1,-1.4),(-.35,-1.4),(1.5,-1.45),(-6.3,-1.55),(-2.2,-1.5),(-2.3,-1.7),(-3.85,-1.75),(-6.25,-1.7),(-2,-1.85),(-4.5,-1.9),(-.6,-1.9),(-1.1,-1.95),(-2.75,-2.05),(-2.2,-2.15),(1.25,-2.2),(-1.65,-2.35),(-3.4,-2.35),(2.3,-2.4),(1.5,-2.65),(-5,-2.7),(-4.15,-3.1),(-1.45,-3.25),(-6.7,-3.35),(-6.6,-3.45),(-1.55,-3.55),(-.8,-3.6),(.6,-3.7),(-7.75,-3.9),(-.9,-4),(-3.85,-6.25)]
e_soft_ell = [(1.45,5.2),(.25,5.15),(-.9,5),(-2.9,4.3),(-4.55,3.5),(-5.8,2.45),(-6.7,1.1),(-7,-.4),(-6.8,-1.35),(-6.15,-2.6),(-5.1,-3.6),(-3.8,-4.35),(-2.75,-4.75),(-1.45,-5.05),(-.2,-5.2),(1.05,-5.15),(2.7,-5),(4.5,-4.55),(5.5,-4.15),(7.4,-2.85),(8.4,-1.8),(8.95,-.8),(9.1,.35),(8.85,1.7),(8.1,2.8),(7.05,3.75),(5.95,4.3),(4.5,4.75),(3.05,5.05)]
e_hard_ell = [(-4.55,5.75),(-2,5.6),(.05,5.2),(1.45,4.75),(3.4,3.8),(4.7,2.9),(5.75,1.95),(6.6,.9),(7.05,-.6),(6.85,-1.75),(6.5,-2.6),(5.2,-3.8),(3.05,-4.9),(1.45,-5.4),(.05,-5.55),(-2,-5.65),(-4.55,-5.45),(-6,-5.1),(-8,-4.5),(-9.05,-4),(-10.7,-2.95),(-11.6,-2.3),(-12.4,-1.15),(-12.85,-.1),(-12.95,1),(-12.85,1.75),(-12.15,3.1),(-10.7,4.2),(-9.05,5),(-6.9,5.55)]

# ----------------------------
# Panel f
# ----------------------------
f_soft = [(-6.2,5.7),(-5.65,5.25),(-1.1,5.5),(.3,5.2),(-4.3,4.45),(-10.35,4.3),(7.8,4.25),(-10.95,3.35),(1.1,3.75),(1.5,3.8),(2.8,3.75),(-.35,3.65),(2.1,3.2),(3.75,3.2),(5.8,3.15),(-9.1,3),(1.1,3.1),(2.2,3),(4.8,3),(-.8,2.95),(.4,2.9),(-7.95,2.8),(-4,2.7),(.15,2.7),(1,2.7),(-1.75,2.65),(3.15,2.75),(3.7,2.7),(4.65,2.65),(-7.45,2.5),(-6.65,2.45),(1.65,2.45),(5.35,2.45),(4.4,2.5),(3.2,2.55),(-9.5,2.25),(-10.15,2.2),(6.5,2.2),(1.5,2.25),(2.5,2.4),(3.75,2.25),(4.25,2.25),(.85,2.25),(-.25,2.3),(.15,2.3),(-.65,2.05),(2.05,2.05),(3.05,2.05),(-2.1,1.9),(3.6,1.9),(.65,1.8),(-7.2,1.75),(-.65,1.75),(4.3,1.75),(3,1.75),(5.25,1.7),(2.05,1.6),(-6.4,1.65),(-6.2,1.55),(-.1,1.55),(2.35,1.6),(1.5,1.5),(5.05,1.45),(-8.2,1.35),(-.8,1.35),(.8,1.3),(1.6,1.35),(2.85,1.3),(3.95,1.25),(-1.55,1.2),(-.4,1.2),(.45,1.25),(4.65,1.1),(-9.1,1.05),(2.9,1.1),(-4.3,1),(-1.4,.95),(.7,1),(0,.95),(2.5,.95),(-9.25,.85),(-6.9,.85),(-.8,.85),(-1.6,.85),(3.4,.9),(-9.85,.75),(-1.6,.7),(1.75,.75),(-9.5,.55),(-2.6,.6),(1.55,.55),(2.05,.5),(3.85,.5),(4.45,.5),(5,.55),(5.5,.55),(.65,.5),(-7.6,.4),(1.8,.35),(-1.9,.35),(-1.2,.3),(-4.75,.3),(3.85,.25),(4.4,.2),(4.8,.2),(1.15,.2),(-8.85,.2),(-3.35,.2),(-9.4,.15),(2.75,.1),(.15,.1),(-11.8,0),(-1.55,.05),(3.3,-.05),(4.05,-.05),(-2.7,-.25),(-5.4,-.2),(-1.75,-.2),(-8.2,-.3),(3.2,-.25),(3.75,-.3),(2.5,-.3),(-4.9,-.35),(3.2,-.4),(2.65,-.4),(-9.4,-.4),(-2.7,-.5),(6.1,-.5),(1.25,-.45),(-.15,-.5),(1.9,-.65),(-8.6,-.75),(-10.5,-.75),(-2.3,-.8),(4.6,-.7),(-9.85,-.8),(-10.9,-.85),(1,-.85),(2.35,-.9),(-1.6,-.9),(3.05,-.9),(1.4,-1),(.25,-1),(-.55,-1.05),(-1.05,-1.1),(5.05,-1.15),(-1.2,-1.25),(.7,-1.2),(1.9,-1.35),(.65,-1.35),(-.45,-1.5),(2.8,-1.5),(3.7,-1.4),(4.45,-1.6),(-4.9,-1.65),(2,-1.65),(2.5,-1.75),(-2.85,-1.95),(1.2,-1.95),(2.05,-1.95),(3.3,-2.1),(-1.05,-2.15),(.6,-2.2),(-8.85,-2.2),(1.5,-2.2),(3,-2.2),(.1,-2.35),(3.45,-2.4),(5.9,-2.5),(-1.75,-2.45),(1.95,-2.45),(.6,-2.5),(-8.75,-2.6),(3.55,-2.65),(-2.85,-2.65),(-2.5,-2.7),(5.05,-2.7),(-.7,-2.7),(2,-2.8),(-4.9,-2.9),(-4.45,-2.9),(-.3,-3),(3.2,-3),(1.85,-3),(-1.05,-3.1),(0,-3.2),(.85,-3.2),(-2.6,-3.2),(3.75,-3.2),(.35,-3.2),(3.2,-3.3),(-1.2,-3.35),(4.9,-3.4),(2.25,-3.4),(-1,-3.55),(.85,-3.55),(-4.35,-3.6),(1.4,-3.6),(3.05,-3.55),(2.5,-3.7),(1,-3.7),(-1.8,-3.75),(3.4,-4.05),(-5.05,-4.1),(5,-4.15),(-11.6,-4.5),(1.4,-4.65),(1.8,-4.8),(2.05,-4.95),(-.7,-5),(1.2,-5.15),(-6.3,-5.8),(1.75,-5.9)]
f_hard = [(-.2,4),(4.1,4.05),(1.4,3.5),(3.1,3.15),(3.5,3.1),(-6.75,2.85),(4.3,2.8),(1.55,2.8),(2.1,2.7),(2.75,2.8),(3,2.35),(-2.8,2.25),(-2.5,2.25),(.6,2.25),(-4.9,2.2),(5.6,2.05),(-.2,2.15),(2.5,1.95),(-.15,1.85),(.85,1.85),(.95,1.65),(-8.5,1.45),(4.8,1.5),(-7.05,1.25),(2.1,1.2),(-8.05,1.05),(.5,.85),(-5.9,.75),(-3.45,.75),(2.7,.75),(3.15,.7),(-3.75,.6),(-11.7,.45),(-8.15,.5),(.2,.45),(2.5,.35),(2.85,.35),(3.6,.35),(-.95,.2),(-.45,.15),(-4.6,.1),(-4,.1),(2.45,0),(-1.4,-.1),(-.65,-.15),(1.35,-.1),(1,-.15),(6.65,-.25),(1.85,-.3),(-.4,-.2),(-9.8,-.35),(-1.1,-.4),(.3,-.45),(.7,-.5),(-11.7,-.5),(4.55,-.5),(-5.4,-.4),(-7.5,-.55),(-1.75,-.5),(-.65,-.6),(2.4,-.65),(3.55,-.8),(5,-1.2),(-7.7,-1.4),(1.4,-1.4),(1.35,-1.45),(.35,-1.45),(5.25,-1.55),(-1.25,-1.65),(.4,-1.8),(-11.65,-1.75),(-5.25,-1.85),(-.05,-1.95),(-.3,-2),(2.6,-2.15),(6.35,-2.15),(-1,-2.55),(-.25,-2.6),(1.4,-2.65),(.4,-2.8),(-3.05,-2.95),(2.65,-2.9),(1.5,-3.1),(-2.35,-3.7),(3,-3.85),(-11.15,-3.8),(1.85,-4.2),(1.15,-4.45),(.95,-4.55)]
f_soft_ell = [(0,5.45),(-1.4,5.35),(-2.5,5.25),(-3.6,5.05),(-4.65,4.75),(-5.65,4.35),(-6.6,3.9),(-7.7,3.2),(-8.55,2.4),(-9.3,1),(-9.45,0),(-9.3,-.9),(-8.65,-1.95),(-7.85,-2.85),(-6.5,-3.75),(-5.05,-4.35),(-3.6,-4.85),(-2.2,-5.15),(0,-5.4),(2.05,-5.3),(4.5,-4.9),(6.35,-4.15),(7.95,-3.2),(9.2,-2.05),(9.65,-.7),(9.7,.5),(9.25,1.65),(8.55,2.5),(7.25,3.55),(5.5,4.45),(3.45,5.1),(2.05,5.3)]
f_hard_ell = [(-.8,4.9),(.95,4.9),(2.5,4.75),(4.3,4.5),(5.8,4.1),(7.25,3.55),(8.35,3),(9.45,2),(10.05,.8),(10.15,.1),(10,-.7),(9.5,-1.6),(8.95,-2.1),(7.85,-2.95),(5.95,-3.8),(4.25,-4.55),(2.2,-4.95),(0,-5.15),(-1.9,-5.15),(-4.55,-4.9),(-6.75,-4.4),(-8.2,-3.75),(-9.6,-3.05),(-10.6,-2.05),(-11,-1),(-11.1,-.35),(-10.9,.85),(-10.2,1.75),(-8.8,2.8),(-6.9,3.7),(-5.8,4.1),(-3.45,4.65),(-2.2,4.8)]

species_names = ["Acacia seyal", "Galega orientulis", "Glycyrrhiza glabra", "Medicago sativa", "Melilotus officinalis", "Thermopsis lanceolata"]
pc1_labels = ["PC1(39.79%)", "PC1(33.94%)", "PC1(47.09%)", "PC1(43.20%)", "PC1(42.39%)", "PC1(44.00%)"]
pc2_labels = ["PC2(15.32%)", "PC2(21.58%)", "PC2(14.09%)", "PC2(15.22%)", "PC2(13.01%)", "PC2(12.80%)"]

W, H = 1773, 2028
fig = plt.figure(figsize=(W / 100, H / 100), dpi=100)

# background axes in pixels, for the loose text and the legend
bg = fig.add_axes([0, 0, 1, 1], zorder=5)
bg.set_xlim(0, W)
bg.set_ylim(H, 0)
bg.axis("off")
bg.patch.set_alpha(0)


def panel(box, xlim, ylim, xticks, yticks, xgrid, ygrid, soft, hard, soft_ell, hard_ell):
    left, right, top, bottom = box
    ax = fig.add_axes([left / W, 1 - bottom / H, (right - left) / W, (bottom - top) / H])
    ax.set_xlim(xlim)
    ax.set_ylim(ylim)
    for v in xgrid:
        ax.axvline(v, color="#EBEBEB", lw=1.7, zorder=1)
    for v in ygrid:
        ax.axhline(v, color="#EBEBEB", lw=1.7, zorder=1)
    ax.scatter(*zip(*soft), s=92, marker="o", color=SOFT, linewidths=0, zorder=3)
    ax.scatter(*zip(*hard), s=150, marker="^", color=HARD, linewidths=0, zorder=4)
    for ell, col in ((soft_ell, SOFT), (hard_ell, HARD)):
        xs, ys = zip(*(ell + ell[:1]))
        ax.plot(xs, ys, color=col, lw=1.9, zorder=5)
    ax.axvline(0, color="black", lw=2, ls=(0, (3.5, 2.5)), zorder=6)
    ax.axhline(0, color="black", lw=2, ls=(0, (3.5, 2.5)), zorder=6)
    ax.set_xticks(xticks)
    ax.set_xticklabels([str(t) for t in xticks], ha="left")
    ax.set_yticks(yticks)
    ax.set_yticklabels([str(t) for t in yticks])
    ax.tick_params(axis="x", length=6.5, width=1.6, labelsize=20, pad=10.5)
    ax.tick_params(axis="y", length=6.5, width=1.6, labelsize=20, pad=6)
    # the tick labels sit a little under their ticks in the original
    shift = ScaledTranslation(0, -3 / 100, fig.dpi_scale_trans)
    for lab in ax.get_yticklabels():
        lab.set_transform(lab.get_transform() + shift)
    for s in ax.spines.values():
        s.set_color("#333333")
        s.set_linewidth(1.6)
    return ax


panel((102, 711, 67, 546), (-15.16, 10.6), (-6.75, 7.78), [-15, -10, -5, 0, 5, 10], [-4, 0, 4],
      [-12.5, -10, -7.5, -5, -2.5, 0, 2.5, 5, 7.5, 10], [-6, -4, -2, 0, 2, 4, 6],
      a_soft, a_hard, a_soft_ell, a_hard_ell)
panel((967, 1589, 95, 575), (-12.82, 11.47), (-10.45, 7.68), [-10, -5, 0, 5, 10], [-10, -5, 0, 5],
      [-12.5, -10, -7.5, -5, -2.5, 0, 2.5, 5, 7.5, 10], [-10, -7.5, -5, -2.5, 0, 2.5, 5, 7.5],
      b_soft, b_hard, b_soft_ell, b_hard_ell)
panel((86, 723, 778, 1257), (-12.72, 12.37), (-5.87, 8.1), [-10, -5, 0, 5, 10], [-5, 0, 5],
      [-12.5, -10, -7.5, -5, -2.5, 0, 2.5, 5, 7.5, 10], [-5, -2.5, 0, 2.5, 5, 7.5],
      c_soft, c_hard, c_soft_ell, c_hard_ell)
panel((967.5, 1604, 786, 1266), (-13.45, 10.53), (-8.88, 7.42), [-10, -5, 0, 5, 10], [-8, -4, 0, 4],
      [-12.5, -10, -7.5, -5, -2.5, 0, 2.5, 5, 7.5, 10], [-8, -6, -4, -2, 0, 2, 4, 6],
      d_soft, d_hard, d_soft_ell, d_hard_ell)
panel((86, 723, 1452, 1932), (-17.47, 10.33), (-7.29, 6.34), [-10, 0, 10], [-4, 0, 4],
      [-15, -10, -5, 0, 5, 10], [-6, -4, -2, 0, 2, 4, 6],
      e_soft, e_hard, e_soft_ell, e_hard_ell)
panel((967.5, 1604, 1452, 1932), (-12.92, 11.21), (-6.44, 6.3), [-10, -5, 0, 5, 10], [-6, -3, 0, 3, 6],
      [-12.5, -10, -7.5, -5, -2.5, 0, 2.5, 5, 7.5, 10], [-6, -4.5, -3, -1.5, 0, 1.5, 3, 4.5, 6],
      f_soft, f_hard, f_soft_ell, f_hard_ell)

# ----------------------------
# Titles and axis labels
# ----------------------------
letters = ["a", "b", "c", "d", "e", "f"]
letter_xy = [(102, 41), (967, 70), (87, 752), (967, 760), (87, 1427), (967, 1433)]
title_x = [157, 1026, 142, 1026, 142, 1019]
xlabel_xy = [(393, 621), (1283, 651), (393, 1333), (1279, 1341), (398, 2007), (1279, 2007)]
ylabel_xy = [(37, 322), (886, 326), (20, 990), (903, 990), (20, 1673), (903, 1660)]

for i in range(6):
    lx, ly = letter_xy[i]
    bg.text(lx, ly, letters[i], fontsize=30, fontweight="bold", ha="left", va="baseline")
    bg.text(title_x[i], ly, species_names[i], fontsize=29.8, style="italic", ha="left", va="baseline")
    bg.text(*xlabel_xy[i], pc1_labels[i], fontsize=26.4, ha="center", va="center")
    bg.text(*ylabel_xy[i], pc2_labels[i], fontsize=26.4, rotation=90, ha="center", va="center")

# ----------------------------
# Legend
# ----------------------------
bg.text(1642, 280, "Species", fontsize=25.6, ha="left", va="center")
bg.add_patch(Rectangle((1643, 308), 51, 50, fill=False, ec=SOFT, lw=1.8))
bg.add_patch(Rectangle((1643, 363), 51, 51, fill=False, ec=HARD, lw=1.8))
bg.scatter([1668.5], [336], s=230, marker="o", color=SOFT, linewidths=0)
bg.scatter([1668.5], [391], s=420, marker="^", color=HARD, linewidths=0)
bg.text(1714, 341, "Soft", fontsize=21, ha="left", va="center")
bg.text(1714, 396, "Hard", fontsize=21, ha="left", va="center")

fig.savefig("out.png", dpi=100)
plt.close(fig)
